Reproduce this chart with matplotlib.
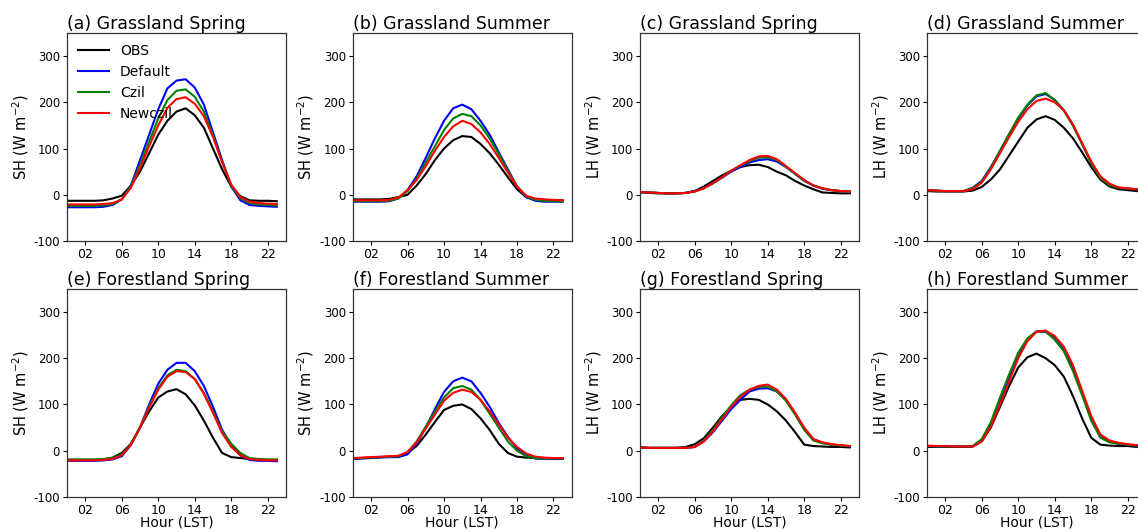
import numpy as np
import matplotlib
matplotlib.use("Agg")
import matplotlib.pyplot as plt

hours = np.arange(24)

# (a) Grassland Spring SH
a_obs = [-13, -13, -13, -13, -12, -8, -2, 20, 50, 90, 130, 160, 180, 187, 172, 145, 100, 55, 18, -3, -12, -13, -13, -14]
a_def = [-27, -27, -27, -27, -26, -22, -10, 20, 75, 130, 185, 230, 247, 250, 232, 195, 135, 75, 18, -12, -22, -24, -25, -26]
a_czil = [-24, -24, -24, -24, -23, -20, -10, 18, 65, 115, 165, 205, 225, 228, 212, 180, 128, 72, 20, -7, -18, -21, -22, -23]
a_new = [-21, -21, -21, -21, -20, -18, -10, 15, 58, 105, 150, 188, 207, 211, 197, 170, 125, 70, 22, -5, -15, -18, -19, -20]

# (b) Grassland Summer SH
b_obs = [-10, -10, -10, -10, -9, -5, 0, 20, 45, 75, 100, 118, 127, 125, 110, 90, 65, 38, 12, -5, -10, -11, -12, -12]
b_def = [-15, -15, -15, -15, -14, -8, 10, 40, 80, 122, 160, 187, 195, 185, 160, 130, 92, 55, 18, -5, -13, -15, -15, -15]
b_czil = [-14, -14, -14, -14, -13, -8, 8, 35, 70, 105, 140, 165, 175, 170, 150, 122, 88, 52, 18, -3, -11, -13, -14, -14]
b_new = [-12, -12, -12, -12, -11, -6, 10, 32, 62, 95, 125, 148, 160, 153, 135, 110, 80, 48, 18, -2, -8, -10, -11, -12]

# (c) Grassland Spring LH
c_obs = [5, 4, 3, 3, 3, 4, 8, 18, 30, 42, 52, 60, 64, 65, 60, 50, 42, 30, 20, 12, 5, 4, 3, 3]
c_def = [6, 5, 4, 3, 3, 4, 8, 15, 25, 37, 50, 60, 70, 75, 77, 72, 60, 45, 30, 20, 13, 10, 8, 7]
c_czil = [6, 5, 4, 3, 3, 4, 7, 14, 25, 38, 52, 63, 73, 80, 81, 75, 61, 46, 31, 20, 14, 10, 8, 7]
c_new = [6, 5, 4, 3, 3, 4, 7, 14, 25, 38, 52, 64, 75, 83, 84, 77, 62, 47, 32, 20, 14, 10, 8, 7]

# (d) Grassland Summer LH
d_obs = [8, 7, 7, 7, 7, 9, 17, 33, 55, 85, 115, 145, 163, 170, 162, 145, 122, 92, 60, 33, 18, 12, 10, 8]
d_def = [10, 9, 8, 8, 8, 15, 30, 60, 95, 130, 165, 193, 213, 218, 205, 183, 150, 110, 70, 38, 22, 15, 13, 12]
d_czil = [10, 9, 8, 8, 8, 14, 28, 58, 95, 132, 167, 195, 215, 220, 205, 182, 150, 110, 68, 36, 21, 15, 13, 12]
d_new = [10, 9, 8, 8, 8, 12, 26, 55, 90, 125, 158, 185, 203, 208, 200, 183, 152, 112, 72, 40, 24, 16, 14, 12]

# (e) Forestland Spring SH
e_obs = [-20, -20, -20, -20, -19, -15, -5, 15, 50, 85, 115, 128, 133, 122, 98, 65, 28, -5, -14, -16, -18, -19, -20, -20]
e_def = [-22, -22, -22, -22, -21, -19, -12, 12, 50, 100, 145, 175, 190, 190, 172, 140, 95, 45, 12, -10, -20, -22, -22, -23]
e_czil = [-19, -19, -19, -19, -18, -16, -8, 14, 50, 95, 135, 163, 175, 172, 155, 125, 85, 42, 15, -5, -16, -18, -19, -19]
e_new = [-21, -21, -21, -21, -20, -18, -10, 13, 50, 93, 132, 160, 172, 170, 155, 123, 82, 38, 8, -10, -18, -20, -21, -21]

# (f) Forestland Summer SH
f_obs = [-17, -16, -15, -14, -13, -12, -5, 10, 35, 62, 88, 97, 100, 90, 70, 45, 15, -5, -13, -15, -16, -17, -17, -17]
f_def = [-18, -17, -16, -15, -14, -14, -8, 15, 50, 90, 127, 150, 158, 150, 125, 95, 60, 30, 5, -10, -17, -18, -18, -18]
f_czil = [-17, -16, -15, -14, -13, -12, -3, 20, 52, 85, 115, 135, 140, 132, 110, 80, 50, 20, 0, -12, -16, -17, -17, -17]
f_new = [-16, -15, -14, -13, -12, -11, -3, 18, 48, 78, 108, 125, 132, 127, 110, 85, 57, 28, 8, -6, -13, -15, -16, -16]

# (g) Forestland Spring LH
g_obs = [7, 6, 6, 6, 6, 8, 14, 27, 50, 75, 95, 110, 112, 110, 100, 85, 65, 40, 13, 10, 9, 8, 8, 7]
g_def = [7, 6, 6, 6, 6, 6, 8, 20, 40, 65, 90, 110, 128, 134, 135, 128, 110, 80, 48, 25, 17, 13, 11, 9]
g_czil = [7, 6, 6, 6, 6, 6, 8, 22, 45, 72, 98, 120, 132, 138, 138, 128, 108, 78, 45, 22, 16, 13, 11, 10]
g_new = [7, 6, 6, 6, 6, 6, 8, 20, 42, 68, 95, 116, 132, 140, 143, 132, 112, 82, 50, 25, 18, 14, 12, 10]

# (h) Forestland Summer LH
h_obs = [8, 8, 8, 8, 8, 9, 20, 50, 95, 140, 180, 202, 210, 200, 185, 160, 118, 70, 28, 13, 11, 10, 10, 8]
h_def = [10, 9, 9, 9, 9, 9, 22, 55, 105, 155, 205, 240, 258, 257, 243, 218, 178, 125, 70, 33, 20, 15, 13, 11]
h_czil = [10, 9, 9, 9, 9, 10, 25, 62, 115, 165, 212, 243, 258, 258, 240, 215, 172, 120, 65, 28, 18, 15, 13, 11]
h_new = [11, 10, 10, 9, 9, 9, 20, 52, 100, 150, 200, 237, 257, 260, 248, 225, 185, 130, 75, 35, 22, 17, 14, 12]

titles = ['(a) Grassland Spring', '(b) Grassland Summer', '(c) Grassland Spring', '(d) Grassland Summer',
          '(e) Forestland Spring', '(f) Forestland Summer', '(g) Forestland Spring', '(h) Forestland Summer']
ylabels = ['SH', 'SH', 'LH', 'LH', 'SH', 'SH', 'LH', 'LH']
panels = [(a_obs, a_def, a_czil, a_new), (b_obs, b_def, b_czil, b_new),
          (c_obs, c_def, c_czil, c_new), (d_obs, d_def, d_czil, d_new),
          (e_obs, e_def, e_czil, e_new), (f_obs, f_def, f_czil, f_new),
          (g_obs, g_def, g_czil, g_new), (h_obs, h_def, h_czil, h_new)]
names = ['OBS', 'Default', 'Czil', 'Newczil']
colors = ['black', 'blue', 'green', 'red']

yticks = [-100, 0, 100, 200, 300]
ytick_labels = ['-100', '0', '100', '200', '300']
xticks = [2, 6, 10, 14, 18, 22]
xtick_labels = ['02', '06', '10', '14', '18', '22']

fig = plt.figure(figsize=(11.38, 5.32), dpi=100)
lefts = [0.0589, 0.310, 0.5624, 0.8146]
bottoms = [0.547, 0.066]
w, h = 0.1924, 0.391

for i, (series, title, yl) in enumerate(zip(panels, titles, ylabels)):
    row, col = divmod(i, 4)
    ax = fig.add_axes([lefts[col], bottoms[row], w, h])
    for vals, name, c in zip(series, names, colors):
        ax.plot(hours, vals, color=c, lw=1.5, label=name)
    ax.set_xlim(0, 24)
    ax.set_ylim(-100, 350)
    ax.set_yticks(yticks)
    ax.set_yticklabels(ytick_labels, fontsize=8.5)
    ax.set_xticks(xticks)
    ax.set_xticklabels(xtick_labels, fontsize=9)
    ax.tick_params(length=3, width=0.8, pad=2)
    for s in ax.spines.values():
        s.set_linewidth(0.9)
        s.set_color('#333333')
    ax.set_title(title, fontsize=12.5, loc='left', pad=3)
    ax.set_ylabel(yl + r' (W m$^{-2}$)', fontsize=10.5, labelpad=2)
    if row == 1:
        ax.set_xlabel('Hour (LST)', fontsize=10, labelpad=-1)
    if i == 0:
        ax.legend(loc='upper left', frameon=False, fontsize=10,
                  handlelength=2.2, labelspacing=0.5, borderaxespad=0.4)

plt.savefig('out.png', dpi=100)
